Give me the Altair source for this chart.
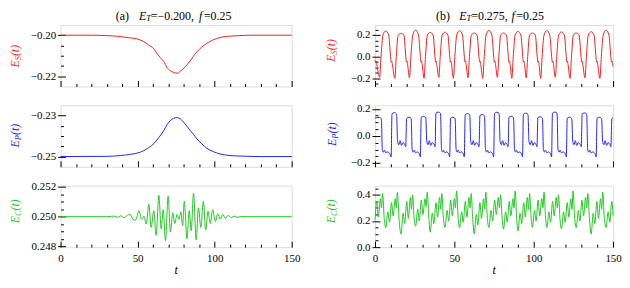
import altair as alt
import pandas as pd

FONT = "Liberation Serif"

# ---------------- left column (a) ----------------
ES_L_T = [0, 20, 30, 37, 43, 50, 54, 57, 60.5, 62.7, 64.8, 67, 69, 71.2, 73, 74.5, 76, 77.7, 79, 81, 84, 86, 88.4, 91.6, 96, 101.3, 107.7, 116, 125, 150]
ES_L_V = [-0.2, -0.2, -0.2002, -0.2005, -0.2011, -0.2019, -0.2031, -0.2047, -0.2066, -0.2090, -0.2110, -0.2129, -0.2157, -0.2173, -0.2180, -0.2184, -0.2185, -0.2176, -0.2168, -0.2153, -0.2126, -0.2105, -0.2082, -0.2058, -0.2035, -0.2016, -0.2006, -0.2002, -0.2, -0.2]

EP_L_T = [0, 30, 39, 45.5, 49.8, 54.1, 57.3, 60.5, 63.7, 67, 69.1, 71.2, 73.4, 75.5, 77.7, 79.8, 82, 84.1, 86.3, 88.4, 91.6, 94.8, 99.1, 103.4, 109.9, 118.5, 130, 150]
EP_L_V = [-0.25, -0.2499, -0.2495, -0.2489, -0.2483, -0.2471, -0.2456, -0.2437, -0.2408, -0.2373, -0.2344, -0.2325, -0.2313, -0.2310, -0.2316, -0.2332, -0.2352, -0.2373, -0.2392, -0.2413, -0.2437, -0.2459, -0.2476, -0.2487, -0.2495, -0.2498, -0.25, -0.25]

EC_L_T = [0, 30, 34.8, 36.9, 39.1, 41.2, 43.4, 45.1, 46.8, 48.7, 50.9, 52.6, 54.1, 55.6, 57.3, 58.8, 60.5, 62.0, 63.8, 65.3, 66.6, 68.1, 69.8, 71.3, 72.8, 74.1, 75.6, 76.9, 78.1, 79.2, 80.3, 82.0, 83.5, 84.8, 86.3, 88.0, 89.5, 91.0, 92.7, 94.2, 95.7, 97.2, 98.7, 100.5, 102.0, 103.7, 105.2, 106.9, 108.8, 110.8, 112.7, 114.6, 117.4, 120, 150]
EC_L_V = [0.25, 0.25, 0.25004, 0.24996, 0.25006, 0.24994, 0.25009, 0.25017, 0.24985, 0.24977, 0.25040, 0.24983, 0.25004, 0.24951, 0.25083, 0.24928, 0.25040, 0.24876, 0.25143, 0.24919, 0.25047, 0.24840, 0.25138, 0.24898, 0.25026, 0.24955, 0.25015, 0.24983, 0.25032, 0.24940, 0.25104, 0.24853, 0.25040, 0.24906, 0.25157, 0.24846, 0.25060, 0.24928, 0.25104, 0.24911, 0.25036, 0.24955, 0.25047, 0.24968, 0.25019, 0.24983, 0.25015, 0.24989, 0.25009, 0.24994, 0.25004, 0.24996, 0.25002, 0.25, 0.25]

# ---------------- right column (b) ----------------
ES_R_T = [0, 0.4, 0.7, 1.1, 2.9, 3.8, 5.0,
          6.8, 8.6, 9.8, 10.2, 10.5, 10.9, 12.5, 13.4, 14.6,
          16.4, 18.2, 19.4, 19.8, 20.1, 20.5, 21.7, 22.6, 23.8,
          25.6, 27.4, 28.6, 29.0, 29.3, 29.7, 30.9, 31.8, 33.0,
          34.8, 36.6, 37.8, 38.2, 38.5, 38.9, 40.2, 41.1, 42.3,
          44.1, 45.9, 47.1, 47.5, 47.8, 48.2, 49.4, 50.3, 51.5,
          53.3, 55.1, 56.3, 56.7, 57.0, 57.4, 58.6, 59.5, 60.7,
          62.5, 64.3, 65.5, 65.9, 66.2, 66.6, 67.9, 68.8, 70.0,
          71.8, 73.6, 74.8, 75.2, 75.5, 75.9, 77.1, 78.0, 79.2,
          81.0, 82.8, 84.0, 84.4, 84.7, 85.1, 86.2, 87.1, 88.3,
          90.1, 91.9, 93.1, 93.5, 93.8, 94.2, 95.3, 96.2, 97.4,
          99.2, 101.0, 102.2, 102.6, 102.9, 103.3, 104.4, 105.3, 106.5,
          108.3, 110.1, 111.3, 111.7, 112.0, 112.4, 113.6, 114.5, 115.7,
          117.5, 119.3, 120.5, 120.9, 121.2, 121.6, 122.9, 123.8, 125.0,
          126.8, 128.6, 129.8, 130.2, 130.5, 130.9, 132.3, 133.2, 134.4,
          136.2, 138.0, 139.2, 139.6, 139.9, 140.3, 141.7, 142.6, 143.8,
          145.6, 147.4, 148.6, 149.0, 149.3, 149.7, 150.0]
ES_R_V = [-0.03, -0.05, -0.04, -0.07, -0.19, 0.0, 0.20,
          0.238, 0.20, 0.0, -0.05, -0.04, -0.07, -0.20, 0.0, 0.20,
          0.215, 0.20, 0.0, -0.05, -0.04, -0.07, -0.195, 0.0, 0.20,
          0.245, 0.20, 0.0, -0.05, -0.04, -0.07, -0.20, 0.0, 0.20,
          0.224, 0.20, 0.0, -0.05, -0.04, -0.07, -0.19, 0.0, 0.20,
          0.226, 0.20, 0.0, -0.05, -0.04, -0.07, -0.20, 0.0, 0.20,
          0.240, 0.20, 0.0, -0.05, -0.04, -0.07, -0.195, 0.0, 0.20,
          0.218, 0.20, 0.0, -0.05, -0.04, -0.07, -0.20, 0.0, 0.20,
          0.242, 0.20, 0.0, -0.05, -0.04, -0.07, -0.19, 0.0, 0.20,
          0.218, 0.20, 0.0, -0.05, -0.04, -0.07, -0.20, 0.0, 0.20,
          0.233, 0.20, 0.0, -0.05, -0.04, -0.07, -0.195, 0.0, 0.20,
          0.218, 0.20, 0.0, -0.05, -0.04, -0.07, -0.20, 0.0, 0.20,
          0.240, 0.20, 0.0, -0.05, -0.04, -0.07, -0.19, 0.0, 0.20,
          0.228, 0.20, 0.0, -0.05, -0.04, -0.07, -0.20, 0.0, 0.20,
          0.218, 0.20, 0.0, -0.05, -0.04, -0.07, -0.195, 0.0, 0.20,
          0.230, 0.20, 0.0, -0.05, -0.04, -0.07, -0.20, 0.0, 0.20,
          0.245, 0.20, 0.0, -0.05, -0.04, -0.07, -0.09]

EP_R_T = [0, 2.6, 4.0, 4.6, 5.3, 5.9, 6.8, 7.8, 9.6, 10.15,
          10.7, 12.2, 13.6, 14.2, 15.0, 15.8, 16.7, 17.6, 18.8, 19.35,
          19.9, 21.4, 22.8, 23.4, 24.1, 24.7, 25.6, 26.6, 28.0, 28.55,
          29.1, 30.6, 32.0, 32.6, 33.4, 34.2, 35.1, 36.0, 37.3, 37.85,
          38.4, 39.9, 41.3, 41.9, 42.6, 43.2, 44.1, 45.1, 46.5, 47.05,
          47.6, 49.1, 50.5, 51.1, 51.8, 52.4, 53.3, 54.3, 55.7, 56.25,
          56.8, 58.3, 59.7, 60.3, 61.1, 61.9, 62.8, 63.7, 65.0, 65.55,
          66.1, 67.6, 69.0, 69.6, 70.3, 70.9, 71.8, 72.8, 74.2, 74.75,
          75.3, 76.8, 78.2, 78.8, 79.6, 80.4, 81.3, 82.2, 83.3, 83.85,
          84.4, 85.9, 87.3, 87.9, 88.6, 89.2, 90.1, 91.1, 92.4, 92.95,
          93.5, 95.0, 96.4, 97.0, 97.8, 98.6, 99.5, 100.4, 101.5, 102.05,
          102.6, 104.1, 105.5, 106.1, 106.8, 107.4, 108.3, 109.3, 110.7, 111.25,
          111.8, 113.3, 114.7, 115.3, 116.0, 116.6, 117.5, 118.5, 120.0, 120.55,
          121.1, 122.6, 124.0, 124.6, 125.4, 126.2, 127.1, 128.0, 129.4, 129.95,
          130.5, 132.0, 133.4, 134.0, 134.7, 135.3, 136.2, 137.2, 138.8, 139.35,
          139.9, 141.4, 142.8, 143.4, 144.2, 145.0, 145.9, 146.8, 148.1, 148.65,
          149.2, 150.0]
EP_R_V = [0.132, 0.136, 0.126, -0.10, -0.12, -0.105, -0.125, -0.118, -0.135, -0.155,
          0.164, 0.172, 0.162, -0.04, -0.065, -0.035, -0.07, -0.05, -0.065, -0.08,
          0.130, 0.138, 0.128, -0.10, -0.12, -0.105, -0.125, -0.118, -0.135, -0.155,
          0.137, 0.145, 0.135, -0.04, -0.065, -0.035, -0.07, -0.05, -0.065, -0.08,
          0.168, 0.176, 0.166, -0.10, -0.12, -0.105, -0.125, -0.118, -0.135, -0.155,
          0.130, 0.138, 0.128, -0.10, -0.12, -0.105, -0.125, -0.118, -0.135, -0.155,
          0.157, 0.165, 0.155, -0.04, -0.065, -0.035, -0.07, -0.05, -0.065, -0.08,
          0.150, 0.158, 0.148, -0.10, -0.12, -0.105, -0.125, -0.118, -0.135, -0.155,
          0.167, 0.175, 0.165, -0.04, -0.065, -0.035, -0.07, -0.05, -0.065, -0.08,
          0.137, 0.145, 0.135, -0.10, -0.12, -0.105, -0.125, -0.118, -0.135, -0.155,
          0.160, 0.168, 0.158, -0.04, -0.065, -0.035, -0.07, -0.05, -0.065, -0.08,
          0.134, 0.142, 0.132, -0.10, -0.12, -0.105, -0.125, -0.118, -0.135, -0.155,
          0.168, 0.176, 0.166, -0.10, -0.12, -0.105, -0.125, -0.118, -0.135, -0.155,
          0.130, 0.138, 0.128, -0.04, -0.065, -0.035, -0.07, -0.05, -0.065, -0.08,
          0.162, 0.170, 0.160, -0.10, -0.12, -0.105, -0.125, -0.118, -0.135, -0.155,
          0.130, 0.138, 0.128, -0.04, -0.065, -0.035, -0.07, -0.05, -0.065, -0.08,
          0.128, 0.134]

EC_R_T = [0, 1.1, 2.1, 3.4, 4.1, 4.8, 5.8,
          6.8, 8.1, 9.1, 10.4, 11.4, 12.7, 13.4, 14.1, 15.1,
          16.4, 17.7, 18.7, 20.0, 21.0, 22.3, 23.0, 23.7, 24.7,
          25.6, 26.9, 27.9, 29.2, 30.2, 31.5, 32.2, 32.9, 33.9,
          34.8, 36.1, 37.1, 38.4, 39.4, 40.7, 41.4, 42.1, 43.1,
          44.1, 45.4, 46.4, 47.7, 48.7, 50.0, 50.7, 51.4, 52.4,
          53.3, 54.6, 55.6, 56.9, 57.9, 59.2, 59.9, 60.6, 61.6,
          62.5, 63.8, 64.8, 66.1, 67.1, 68.4, 69.1, 69.8, 70.8,
          71.8, 73.1, 74.1, 75.4, 76.4, 77.7, 78.4, 79.1, 80.1,
          81.0, 82.3, 83.3, 84.6, 85.6, 86.9, 87.6, 88.3, 89.3,
          90.1, 91.4, 92.4, 93.7, 94.7, 96.0, 96.7, 97.4, 98.4,
          99.2, 100.5, 101.5, 102.8, 103.8, 105.1, 105.8, 106.5, 107.5,
          108.3, 109.6, 110.6, 111.9, 112.9, 114.2, 114.9, 115.6, 116.6,
          117.5, 118.8, 119.8, 121.1, 122.1, 123.4, 124.1, 124.8, 125.8,
          126.8, 128.1, 129.1, 130.4, 131.4, 132.7, 133.4, 134.1, 135.1,
          136.2, 137.5, 138.5, 139.8, 140.8, 142.1, 142.8, 143.5, 144.5,
          145.6, 146.9, 147.9, 149.2, 150.0]
EC_R_V = [0.21, 0.35, 0.23, 0.37, 0.30, 0.41, 0.22,
          0.15, 0.27, 0.19, 0.34, 0.24, 0.37, 0.30, 0.42, 0.22,
          0.10, 0.26, 0.18, 0.35, 0.22, 0.38, 0.29, 0.40, 0.21,
          0.16, 0.29, 0.20, 0.36, 0.25, 0.37, 0.31, 0.42, 0.23,
          0.115, 0.26, 0.18, 0.34, 0.23, 0.38, 0.29, 0.41, 0.22,
          0.15, 0.28, 0.20, 0.36, 0.24, 0.37, 0.30, 0.43, 0.22,
          0.15, 0.27, 0.19, 0.35, 0.23, 0.38, 0.30, 0.41, 0.21,
          0.10, 0.25, 0.17, 0.34, 0.22, 0.37, 0.29, 0.42, 0.22,
          0.15, 0.28, 0.20, 0.36, 0.25, 0.38, 0.30, 0.40, 0.22,
          0.14, 0.27, 0.19, 0.35, 0.24, 0.37, 0.30, 0.43, 0.21,
          0.125, 0.26, 0.18, 0.34, 0.23, 0.38, 0.29, 0.41, 0.22,
          0.15, 0.28, 0.20, 0.36, 0.24, 0.37, 0.30, 0.42, 0.22,
          0.15, 0.27, 0.19, 0.35, 0.24, 0.38, 0.30, 0.40, 0.21,
          0.14, 0.27, 0.19, 0.34, 0.23, 0.37, 0.29, 0.43, 0.22,
          0.15, 0.28, 0.20, 0.36, 0.24, 0.38, 0.30, 0.41, 0.22,
          0.10, 0.26, 0.18, 0.35, 0.22, 0.37, 0.29, 0.42, 0.22,
          0.15, 0.27, 0.19, 0.35, 0.24]

X_MAJOR = [0, 50, 100, 150]
X_MINOR = [10, 20, 30, 40, 60, 70, 80, 90, 110, 120, 130, 140]

RED, BLUE, GREEN = "#ff1a1a", "#2222ff", "#1ec81e"

ONE = pd.DataFrame({"k": [0]})


def txt(s, x, y, size, italic=False, color="black", angle=0, align="left"):
    return alt.Chart(ONE).mark_text(
        text=s, font=FONT, fontSize=size, fontStyle="italic" if italic else "normal",
        color=color, angle=angle, align=align, baseline="middle",
    ).encode(x=alt.value(x), y=alt.value(y))


def panel(t, v, color, ydom, ymaj, ymin, yfmt, w, h, bottom, sub, sub_w, title_x, title_off, head=None):
    df = pd.DataFrame({"t": t, "v": v})
    xs = alt.Scale(domain=[0, 150], nice=False, zero=False)
    ys = alt.Scale(domain=ydom, nice=False, zero=False)
    common = dict(domain=False, grid=False, title=None, labelFlush=False, labelOverlap=False,
                  tickColor="black", labelColor="black", labelFont=FONT, labelFontSize=11)
    main = alt.Chart(df).mark_line(color=color, strokeWidth=1, interpolate="monotone").encode(
        x=alt.X("t:Q", scale=xs, axis=alt.Axis(orient="bottom", values=X_MAJOR, tickSize=6, offset=-6,
                                               labels=bottom, labelPadding=5, format="d", **common)),
        y=alt.Y("v:Q", scale=ys, axis=alt.Axis(orient="left", values=ymaj, tickSize=8, offset=-5,
                                               labelPadding=2, format=yfmt, **common)),
    )
    minor = alt.Chart(df).mark_line(strokeOpacity=0).encode(
        x=alt.X("t:Q", scale=xs, axis=alt.Axis(orient="bottom", values=X_MINOR, tickSize=3, offset=-3,
                                               labels=False, **common)),
        y=alt.Y("v:Q", scale=ys, axis=alt.Axis(orient="left", values=ymin, tickSize=3, offset=-3,
                                               labels=False, **common)),
    )
    layers = [main, minor]
    y0 = h / 2 + title_off
    layers.append(txt("E", title_x, y0, 12, True, color, 270))
    layers.append(txt(sub, title_x + 3, y0 - 7.3, 8.5, True, color, 270))
    layers.append(txt("(t)", title_x, y0 - 7.3 - sub_w, 12, True, color, 270))
    if bottom:
        layers.append(txt("t", w / 2, h + 23, 12, True, "black", 0, "center"))
    if head:
        for s, hx, dy, size, it in head:
            layers.append(txt(s, hx, -9.5 + dy, size, it))
    return alt.layer(*layers).resolve_axis(x="independent", y="independent").properties(width=w, height=h)


WL, WR, H = 233, 240, 62

head_a = [("(a)", 55.7, 0, 12, False), ("E", 79, 0, 12, True), ("T", 86.3, 3, 8.5, True),
          ("=\u22120.200,", 91, 0, 12, False), ("f", 139.5, 0, 12, True), ("=0.25", 144.5, 0, 12, False)]
head_b = [("(b)", 61.6, 0, 12, False), ("E", 85, 0, 12, True), ("T", 92.3, 3, 8.5, True),
          ("=0.275,", 97, 0, 12, False), ("f", 137.5, 0, 12, True), ("=0.25", 142.5, 0, 12, False)]

pL1 = panel(ES_L_T, ES_L_V, RED, [-0.225, -0.195], [-0.22, -0.20], [-0.215, -0.21, -0.205], ".2f",
            WL, H, False, "S", 4.3, -46, 12, head_a)
pR1 = panel(ES_R_T, ES_R_V, RED, [-0.275, 0.2925], [-0.2, 0.0, 0.2],
            [-0.25, -0.15, -0.1, -0.05, 0.05, 0.1, 0.15, 0.25], ".1f",
            WR, H, False, "S", 4.3, -44, 6, head_b)
pL2 = panel(EP_L_T, EP_L_V, BLUE, [-0.255, -0.225], [-0.25, -0.23], [-0.245, -0.24, -0.235], ".2f",
            WL, H, False, "P", 5.2, -46, 11.5)
pR2 = panel(EP_R_T, EP_R_V, BLUE, [-0.228, 0.226], [-0.2, 0.0, 0.2],
            [-0.15, -0.1, -0.05, 0.05, 0.1, 0.15], ".1f",
            WR, H, False, "P", 5.2, -43, 10)
pL3 = panel(EC_L_T, EC_L_V, GREEN, [0.24796, 0.25208], [0.248, 0.250, 0.252],
            [0.2485, 0.249, 0.2495, 0.2505, 0.251, 0.2515], ".3f",
            WL, H, True, "C", 5.7, -46, 7)
pR3 = panel(EC_R_T, EC_R_V, GREEN, [0.0, 0.47], [0.0, 0.2, 0.4],
            [0.05, 0.1, 0.15, 0.25, 0.3, 0.35, 0.45], ".1f",
            WR, H, True, "C", 5.7, -44, 7)

chart = alt.concat(pL1, pR1, pL2, pR2, pL3, pR3, columns=2,
                   spacing={"row": 19, "column": 84}, bounds="flush", align="each").properties(
    padding=0
).configure_view(stroke="black", strokeWidth=1).configure(font=FONT)

chart.save("out.html", embed_options={"renderer": "svg", "actions": False})
